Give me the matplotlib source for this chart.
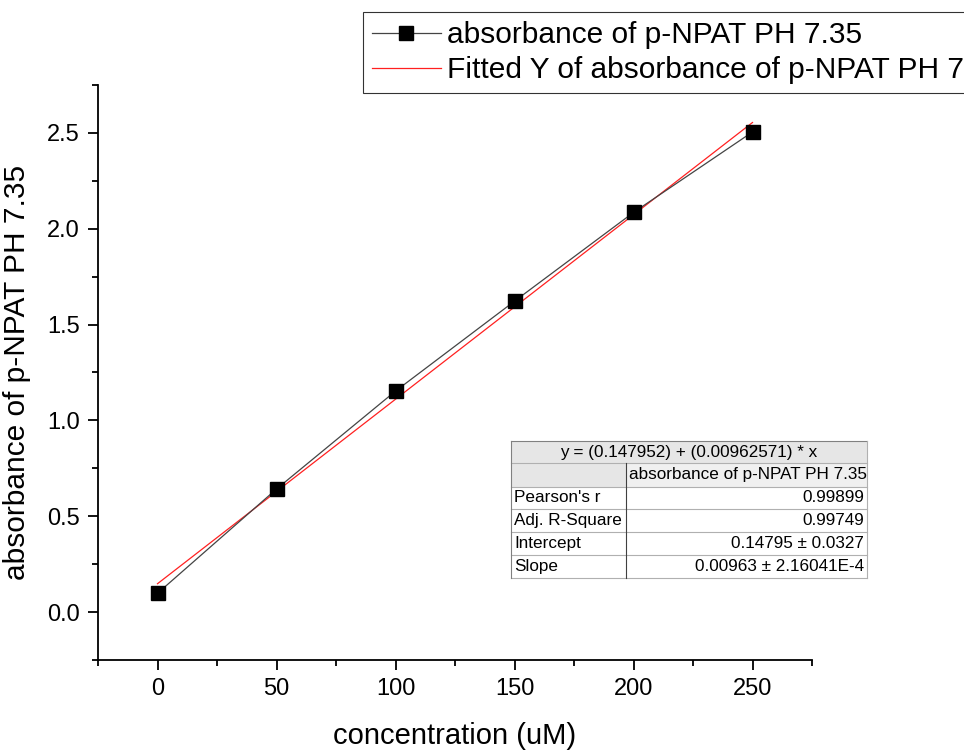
import numpy as np
import matplotlib.pyplot as plt
from matplotlib.patches import Rectangle

plt.rcParams['font.family'] = ['Liberation Sans', 'DejaVu Sans']

# measured absorbance vs concentration
conc = [0, 50, 100, 150, 200, 250]
absorb = [0.098, 0.642, 1.153, 1.622, 2.085, 2.505]

# linear fit results
intercept = 0.147952
slope = 0.00962571

series_name = 'absorbance of p-NPAT PH 7.35'
fit_name = 'Fitted Y of absorbance of p-NPAT PH 7.35'

table_title = 'y = (0.147952) + (0.00962571) * x'
row_names = ["Pearson's r", 'Adj. R-Square', 'Intercept', 'Slope']
row_values = ['0.99899', '0.99749', '0.14795 \u00b1 0.0327', '0.00963 \u00b1 2.16041E-4']

W, H = 964, 752
fig = plt.figure(figsize=(W / 100, H / 100), dpi=100)
ax = fig.add_axes([98 / W, 1 - 660 / H, (812 - 98) / W, (660 - 85) / H])

x_fit = np.array([conc[0], conc[-1]])
y_fit = intercept + slope * x_fit

ln1, = ax.plot(conc, absorb, color='#444444', lw=0.9, marker='s', ms=9.5,
               mfc='black', mec='black', zorder=3)
ln2, = ax.plot(x_fit, y_fit, color='#ff2020', lw=0.9, zorder=2)

ax.set_xlim(-25, 275)
ax.set_ylim(-0.25, 2.75)
ax.set_xticks([0, 50, 100, 150, 200, 250])
ax.set_xticks(np.arange(-25, 276, 25), minor=True)
ax.set_yticks([0.0, 0.5, 1.0, 1.5, 2.0, 2.5])
ax.set_yticks(np.arange(-0.25, 2.76, 0.25), minor=True)
ax.set_yticklabels(['0.0', '0.5', '1.0', '1.5', '2.0', '2.5'])
ax.tick_params(which='major', direction='out', length=7, width=1.3,
               labelsize=17, pad=6)
ax.tick_params(which='minor', direction='out', length=4, width=1.3)
for s in ['top', 'right']:
    ax.spines[s].set_visible(False)
for s in ['left', 'bottom']:
    ax.spines[s].set_linewidth(1.3)

ax.set_xlabel('concentration (uM)', fontsize=21, labelpad=16)
ax.set_ylabel(series_name, fontsize=21.5, labelpad=12)

# legend runs past the right edge of the figure
leg = fig.legend([ln1, ln2], [series_name, fit_name], loc='upper left',
                 bbox_to_anchor=(363 / W, 1 - 12 / H), fontsize=21.5,
                 frameon=True, fancybox=False, edgecolor='black',
                 handlelength=2.3, handletextpad=0.2, borderpad=0.3,
                 labelspacing=0.25, borderaxespad=0)
leg.get_frame().set_linewidth(0.8)

# fit results table
tx0, ty0, tw, th = 511, 441, 356, 137
tax = fig.add_axes([tx0 / W, 1 - (ty0 + th) / H, tw / W, th / H])
tax.set_xlim(0, tw)
tax.set_ylim(th, 0)
tax.axis('off')
col = 115
rows = [0, 22, 46, 68, 91, 114, 137]
gray = '#e6e6e6'
tax.add_patch(Rectangle((0, 0), tw, rows[2], facecolor=gray, edgecolor='none'))
tax.add_patch(Rectangle((col, rows[1]), tw - col, rows[2] - rows[1],
                        facecolor='#f0f0f0', edgecolor='none'))
for r in rows:
    tax.plot([0, tw], [r, r], color='#b0b0b0' if r != 0 else '#808080',
             lw=0.8, clip_on=False)
tax.plot([0, 0], [0, th], color='#808080', lw=0.8, clip_on=False)
tax.plot([tw, tw], [0, th], color='#b0b0b0', lw=0.8, clip_on=False)
tax.plot([col, col], [rows[1], th], color='#404040', lw=0.8, clip_on=False)

fs = 12.3
tax.text(tw / 2, rows[1] / 2, table_title, ha='center', va='center', fontsize=fs)
tax.text(col + 3, (rows[1] + rows[2]) / 2, series_name, ha='left', va='center',
         fontsize=fs, clip_on=True)
for i, (name, val) in enumerate(zip(row_names, row_values)):
    yc = (rows[i + 2] + rows[i + 3]) / 2
    tax.text(3, yc, name, ha='left', va='center', fontsize=fs)
    tax.text(tw - 3, yc, val, ha='right', va='center', fontsize=fs)

fig.savefig('out.png', dpi=100)
